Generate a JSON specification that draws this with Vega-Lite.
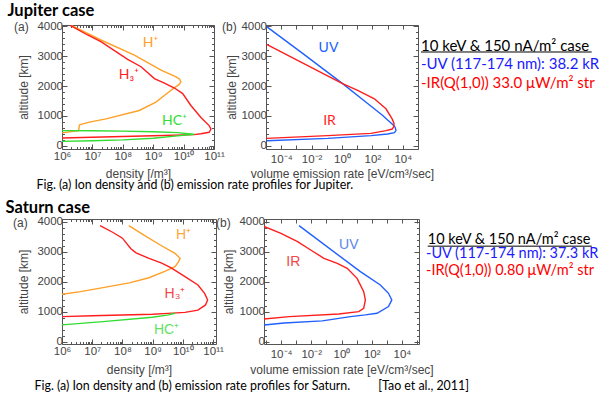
{
  "$schema": "https://vega.github.io/schema/vega-lite/v6.json",
  "background": "white",
  "padding": {"left": 5, "top": 3, "right": 0, "bottom": 0},
  "config": {
    "font": "Liberation Sans",
    "view": {"stroke": "#555", "strokeWidth": 1},
    "axis": {"domain": false, "grid": false, "tickColor": "#555", "labelColor": "#444", "titleColor": "#444", "labelFont": "Liberation Sans", "titleFont": "Liberation Sans", "labelFontSize": 11.5, "titleFontSize": 12, "titleFontWeight": "normal", "labelOverlap": false, "labelFlush": false},
    "title": {"font": "Lato", "color": "#000"}
  },
  "datasets": {
    "jd": [
      {"s": "H⁺", "i": 0, "n": 1.995e6, "alt": 4040}, {"s": "H⁺", "i": 1, "n": 1.905e7, "alt": 3547}, {"s": "H⁺", "i": 2, "n": 2.399e8, "alt": 3040}, {"s": "H⁺", "i": 3, "n": 1.820e9, "alt": 2533}, {"s": "H⁺", "i": 4, "n": 5.623e9, "alt": 2308}, {"s": "H⁺", "i": 5, "n": 7.413e9, "alt": 2230}, {"s": "H⁺", "i": 6, "n": 8.128e9, "alt": 2139}, {"s": "H⁺", "i": 7, "n": 7.079e9, "alt": 2050}, {"s": "H⁺", "i": 8, "n": 5.012e9, "alt": 1950}, {"s": "H⁺", "i": 9, "n": 2.818e9, "alt": 1750}, {"s": "H⁺", "i": 10, "n": 1.230e9, "alt": 1463}, {"s": "H⁺", "i": 11, "n": 3.467e8, "alt": 1182}, {"s": "H⁺", "i": 12, "n": 2.818e7, "alt": 899}, {"s": "H⁺", "i": 13, "n": 7.943e6, "alt": 790}, {"s": "H⁺", "i": 14, "n": 3.981e6, "alt": 710}, {"s": "H⁺", "i": 15, "n": 3.715e6, "alt": 690}, {"s": "H⁺", "i": 16, "n": 3.548e6, "alt": 507}, {"s": "H⁺", "i": 17, "n": 1e6, "alt": 430},
      {"s": "H₃⁺", "i": 0, "n": 1.862e6, "alt": 4040}, {"s": "H₃⁺", "i": 1, "n": 6.918e6, "alt": 3715}, {"s": "H₃⁺", "i": 2, "n": 1.905e7, "alt": 3490}, {"s": "H₃⁺", "i": 3, "n": 1.445e8, "alt": 2900}, {"s": "H₃⁺", "i": 4, "n": 3.981e8, "alt": 2650}, {"s": "H₃⁺", "i": 5, "n": 1.096e9, "alt": 2251}, {"s": "H₃⁺", "i": 6, "n": 2.344e9, "alt": 2100}, {"s": "H₃⁺", "i": 7, "n": 5.012e9, "alt": 1936}, {"s": "H₃⁺", "i": 8, "n": 9.333e9, "alt": 1750}, {"s": "H₃⁺", "i": 9, "n": 1.738e10, "alt": 1350}, {"s": "H₃⁺", "i": 10, "n": 3.715e10, "alt": 950}, {"s": "H₃⁺", "i": 11, "n": 6.918e10, "alt": 675}, {"s": "H₃⁺", "i": 12, "n": 7.943e10, "alt": 560}, {"s": "H₃⁺", "i": 13, "n": 6.918e10, "alt": 450}, {"s": "H₃⁺", "i": 14, "n": 3.715e10, "alt": 400}, {"s": "H₃⁺", "i": 15, "n": 2.239e10, "alt": 372}, {"s": "H₃⁺", "i": 16, "n": 1e9, "alt": 335}, {"s": "H₃⁺", "i": 17, "n": 1e8, "alt": 310}, {"s": "H₃⁺", "i": 18, "n": 1e7, "alt": 285}, {"s": "H₃⁺", "i": 19, "n": 1e6, "alt": 257},
      {"s": "HC⁺", "i": 0, "n": 1e6, "alt": 507}, {"s": "HC⁺", "i": 1, "n": 1e7, "alt": 500}, {"s": "HC⁺", "i": 2, "n": 1e8, "alt": 490}, {"s": "HC⁺", "i": 3, "n": 1e9, "alt": 470}, {"s": "HC⁺", "i": 4, "n": 6.310e9, "alt": 440}, {"s": "HC⁺", "i": 5, "n": 2.239e10, "alt": 385}, {"s": "HC⁺", "i": 6, "n": 6.310e9, "alt": 330}, {"s": "HC⁺", "i": 7, "n": 1e9, "alt": 250}, {"s": "HC⁺", "i": 8, "n": 1e8, "alt": 195}, {"s": "HC⁺", "i": 9, "n": 1e7, "alt": 165}, {"s": "HC⁺", "i": 10, "n": 1e6, "alt": 145}
    ],
    "jdl": [
      {"s": "H⁺", "n": 8.127e8, "alt": 3456}, {"s": "H₃⁺", "n": 1.585e8, "alt": 2375}, {"s": "HC⁺", "n": 5.012e9, "alt": 821}
    ],
    "je": [
      {"s": "UV", "i": 0, "n": 1.096e-5, "alt": 3997}, {"s": "UV", "i": 1, "n": 1.995e-3, "alt": 3142}, {"s": "UV", "i": 2, "n": 1.096, "alt": 2082}, {"s": "UV", "i": 3, "n": 31.62, "alt": 1491}, {"s": "UV", "i": 4, "n": 478.6, "alt": 1013}, {"s": "UV", "i": 5, "n": 1000, "alt": 860}, {"s": "UV", "i": 6, "n": 1995, "alt": 730}, {"s": "UV", "i": 7, "n": 3162, "alt": 620}, {"s": "UV", "i": 8, "n": 3548, "alt": 507}, {"s": "UV", "i": 9, "n": 2818, "alt": 440}, {"s": "UV", "i": 10, "n": 1000, "alt": 392}, {"s": "UV", "i": 11, "n": 81.28, "alt": 338}, {"s": "UV", "i": 12, "n": 0.1148, "alt": 247}, {"s": "UV", "i": 13, "n": 1.096e-5, "alt": 169},
      {"s": "IR", "i": 0, "n": 1.096e-5, "alt": 3400}, {"s": "IR", "i": 1, "n": 1.995e-3, "alt": 2804}, {"s": "IR", "i": 2, "n": 1.096, "alt": 2082}, {"s": "IR", "i": 3, "n": 10.72, "alt": 1857}, {"s": "IR", "i": 4, "n": 134.9, "alt": 1575}, {"s": "IR", "i": 5, "n": 776.2, "alt": 1238}, {"s": "IR", "i": 6, "n": 1995, "alt": 900}, {"s": "IR", "i": 7, "n": 2630, "alt": 750}, {"s": "IR", "i": 8, "n": 2630, "alt": 650}, {"s": "IR", "i": 9, "n": 1995, "alt": 560}, {"s": "IR", "i": 10, "n": 794.3, "alt": 507}, {"s": "IR", "i": 11, "n": 79.43, "alt": 415}, {"s": "IR", "i": 12, "n": 0.1148, "alt": 338}, {"s": "IR", "i": 13, "n": 1.096e-5, "alt": 247}
    ],
    "jel": [
      {"s": "UV", "n": 0.1288, "alt": 3287}, {"s": "IR", "n": 0.1514, "alt": 821}
    ],
    "sd": [
      {"s": "H⁺", "i": 0, "n": 1.622e8, "alt": 3867}, {"s": "H⁺", "i": 1, "n": 5.012e8, "alt": 3560}, {"s": "H⁺", "i": 2, "n": 1.778e9, "alt": 3222}, {"s": "H⁺", "i": 3, "n": 5.495e9, "alt": 2944}, {"s": "H⁺", "i": 4, "n": 8.128e9, "alt": 2778}, {"s": "H⁺", "i": 5, "n": 7.079e9, "alt": 2650}, {"s": "H⁺", "i": 6, "n": 5.495e9, "alt": 2500}, {"s": "H⁺", "i": 7, "n": 2.630e9, "alt": 2350}, {"s": "H⁺", "i": 8, "n": 7.586e8, "alt": 2130}, {"s": "H⁺", "i": 9, "n": 1.698e8, "alt": 1960}, {"s": "H⁺", "i": 10, "n": 2.291e7, "alt": 1800}, {"s": "H⁺", "i": 11, "n": 4.074e6, "alt": 1667}, {"s": "H⁺", "i": 12, "n": 1e6, "alt": 1578},
      {"s": "H₃⁺", "i": 0, "n": 1.820e7, "alt": 3867}, {"s": "H₃⁺", "i": 1, "n": 4.898e7, "alt": 3640}, {"s": "H₃⁺", "i": 2, "n": 1e8, "alt": 3450}, {"s": "H₃⁺", "i": 3, "n": 1.905e8, "alt": 3100}, {"s": "H₃⁺", "i": 4, "n": 2.818e8, "alt": 2960}, {"s": "H₃⁺", "i": 5, "n": 7.586e8, "alt": 2778}, {"s": "H₃⁺", "i": 6, "n": 1.995e9, "alt": 2620}, {"s": "H₃⁺", "i": 7, "n": 3.981e9, "alt": 2470}, {"s": "H₃⁺", "i": 8, "n": 1.175e10, "alt": 2170}, {"s": "H₃⁺", "i": 9, "n": 3.162e10, "alt": 1890}, {"s": "H₃⁺", "i": 10, "n": 5.248e10, "alt": 1610}, {"s": "H₃⁺", "i": 11, "n": 6.607e10, "alt": 1390}, {"s": "H₃⁺", "i": 12, "n": 5.623e10, "alt": 1223}, {"s": "H₃⁺", "i": 13, "n": 3.162e10, "alt": 1050}, {"s": "H₃⁺", "i": 14, "n": 1.175e10, "alt": 975}, {"s": "H₃⁺", "i": 15, "n": 3.162e9, "alt": 940}, {"s": "H₃⁺", "i": 16, "n": 1e9, "alt": 913}, {"s": "H₃⁺", "i": 17, "n": 1e8, "alt": 885}, {"s": "H₃⁺", "i": 18, "n": 1e7, "alt": 860}, {"s": "H₃⁺", "i": 19, "n": 1e6, "alt": 833},
      {"s": "HC⁺", "i": 0, "n": 1e6, "alt": 557}, {"s": "HC⁺", "i": 1, "n": 2.291e7, "alt": 667}, {"s": "HC⁺", "i": 2, "n": 9.772e8, "alt": 813}, {"s": "HC⁺", "i": 3, "n": 3.388e9, "alt": 890}, {"s": "HC⁺", "i": 4, "n": 5.495e9, "alt": 947}
    ],
    "sdl": [
      {"s": "H⁺", "n": 1.047e10, "alt": 3557}, {"s": "H₃⁺", "n": 5.495e9, "alt": 1573}, {"s": "HC⁺", "n": 2.884e9, "alt": 390}
    ],
    "se": [
      {"s": "UV", "i": 0, "n": 1.549e-3, "alt": 3867}, {"s": "UV", "i": 1, "n": 17.78, "alt": 2333}, {"s": "UV", "i": 2, "n": 371.5, "alt": 1890}, {"s": "UV", "i": 3, "n": 1288, "alt": 1611}, {"s": "UV", "i": 4, "n": 2138, "alt": 1390}, {"s": "UV", "i": 5, "n": 1288, "alt": 1167}, {"s": "UV", "i": 6, "n": 223.9, "alt": 944}, {"s": "UV", "i": 7, "n": 38.02, "alt": 890}, {"s": "UV", "i": 8, "n": 3.890, "alt": 833}, {"s": "UV", "i": 9, "n": 0.0537, "alt": 690}, {"s": "UV", "i": 10, "n": 1.585e-4, "alt": 620}, {"s": "UV", "i": 11, "n": 7.5e-6, "alt": 555},
      {"s": "IR", "i": 0, "n": 7.5e-6, "alt": 3840}, {"s": "IR", "i": 1, "n": 9.772e-5, "alt": 3611}, {"s": "IR", "i": 2, "n": 1.230e-3, "alt": 3333}, {"s": "IR", "i": 3, "n": 9.120e-3, "alt": 3055}, {"s": "IR", "i": 4, "n": 6.918e-2, "alt": 2778}, {"s": "IR", "i": 5, "n": 0.5248, "alt": 2611}, {"s": "IR", "i": 6, "n": 2.399, "alt": 2444}, {"s": "IR", "i": 7, "n": 10.72, "alt": 2111}, {"s": "IR", "i": 8, "n": 29.51, "alt": 1667}, {"s": "IR", "i": 9, "n": 38.02, "alt": 1390}, {"s": "IR", "i": 10, "n": 29.51, "alt": 1111}, {"s": "IR", "i": 11, "n": 13.80, "alt": 1000}, {"s": "IR", "i": 12, "n": 0.6607, "alt": 923}, {"s": "IR", "i": 13, "n": 3.388e-4, "alt": 833}, {"s": "IR", "i": 14, "n": 7.5e-6, "alt": 755}
    ],
    "sel": [
      {"s": "UV", "n": 3.020, "alt": 3223}, {"s": "IR", "n": 6.457e-4, "alt": 2657}
    ],
    "jn": [
      {"line": 0, "kind": "head", "text": "10 keV & 150 nA/m² case"},
      {"line": 1, "kind": "uv", "text": "-UV (117-174 nm): 38.2 kR"},
      {"line": 2, "kind": "ir", "text": "-IR(Q(1,0)) 33.0 μW/m² str"}
    ],
    "sn": [
      {"line": 0, "kind": "head", "text": "10 keV & 150 nA/m² case"},
      {"line": 0.73, "kind": "uv", "text": "-UV (117-174 nm): 37.3 kR"},
      {"line": 1.65, "kind": "ir", "text": "-IR(Q(1,0)) 0.80 μW/m² str"}
    ]
  },
  "vconcat": [
    {
      "title": {"text": "Jupiter case", "anchor": "start", "fontSize": 16.5, "fontWeight": "bold", "offset": 0, "dx": -6},
      "vconcat": [
        {
          "title": {"text": "Fig. (a) Ion density and (b) emission rate profiles for Jupiter.", "orient": "bottom", "anchor": "start", "fontSize": 12.4, "fontWeight": "normal", "offset": -1, "dx": 23},
          "bounds": "flush",
          "spacing": 52,
          "hconcat": [
            {
              "width": 152, "height": 124,
              "title": {"text": "(a)", "anchor": "start", "frame": "group", "dx": -48, "offset": -14, "fontSize": 12, "fontWeight": "normal", "font": "Liberation Sans", "color": "#444"},
              "layer": [
                {"data": {"name": "jd"}, "mark": {"type": "line", "strokeWidth": 1.4, "clip": true},
                 "encoding": {
                   "x": {"field": "n", "type": "quantitative", "scale": {"type": "log", "domain": [1e6, 1e11]},
                         "axis": {"orient": "bottom", "title": "density [/m³]", "values": [1e6,2e6,3e6,4e6,5e6,6e6,7e6,8e6,9e6,1e7,2e7,3e7,4e7,5e7,6e7,7e7,8e7,9e7,1e8,2e8,3e8,4e8,5e8,6e8,7e8,8e8,9e8,1e9,2e9,3e9,4e9,5e9,6e9,7e9,8e9,9e9,1e10,2e10,3e10,4e10,5e10,6e10,7e10,8e10,9e10,1e11],
                                  "labelExpr": "abs(log(datum.value)/LN10 - round(log(datum.value)/LN10)) < 1e-6 ? '10' + ['⁰','¹','²','³','⁴','⁵','⁶','⁷','⁸','⁹','¹⁰','¹¹'][round(log(datum.value)/LN10)] : ''",
                                  "tickSize": {"condition": {"test": "abs(log(datum.value)/LN10 - round(log(datum.value)/LN10)) < 1e-6", "value": -5}, "value": -2.5},
                                  "labelPadding": 6.5, "titlePadding": 3.5}},
                   "y": {"field": "alt", "type": "quantitative", "scale": {"domain": [-110, 4050], "nice": false, "zero": false},
                         "axis": {"orient": "left", "title": "altitude [km]", "values": [0,200,400,600,800,1000,1200,1400,1600,1800,2000,2200,2400,2600,2800,3000,3200,3400,3600,3800,4000],
                                  "labelExpr": "datum.value % 1000 === 0 ? format(datum.value, 'd') : ''",
                                  "tickSize": {"condition": {"test": "datum.value % 1000 === 0", "value": -5}, "value": -2.5},
                                  "labelPadding": 4.5, "titlePadding": 6.4}},
                   "color": {"field": "s", "type": "nominal", "scale": {"domain": ["H⁺", "H₃⁺", "HC⁺", "UV", "IR"], "range": ["#FFA028", "#FF1E1E", "#30DD30", "#2060FF", "#FF1E1E"]}, "legend": null},
                   "order": {"field": "i", "type": "quantitative"}
                 }},
                {"data": {"name": "jdl"}, "mark": {"type": "text", "font": "Lato", "fontSize": 14},
                 "encoding": {
                   "x": {"field": "n", "type": "quantitative", "scale": {"type": "log", "domain": [1e6, 1e11]},
                         "axis": {"orient": "top", "title": null, "labels": false, "values": [1e6,2e6,3e6,4e6,5e6,6e6,7e6,8e6,9e6,1e7,2e7,3e7,4e7,5e7,6e7,7e7,8e7,9e7,1e8,2e8,3e8,4e8,5e8,6e8,7e8,8e8,9e8,1e9,2e9,3e9,4e9,5e9,6e9,7e9,8e9,9e9,1e10,2e10,3e10,4e10,5e10,6e10,7e10,8e10,9e10,1e11],
                                  "tickSize": {"condition": {"test": "abs(log(datum.value)/LN10 - round(log(datum.value)/LN10)) < 1e-6", "value": -5}, "value": -2.5}}},
                   "y": {"field": "alt", "type": "quantitative", "scale": {"domain": [-110, 4050], "nice": false, "zero": false},
                         "axis": {"orient": "right", "title": null, "labels": false, "values": [0,200,400,600,800,1000,1200,1400,1600,1800,2000,2200,2400,2600,2800,3000,3200,3400,3600,3800,4000],
                                  "tickSize": {"condition": {"test": "datum.value % 1000 === 0", "value": -5}, "value": -2.5}}},
                   "text": {"field": "s"},
                   "color": {"field": "s", "type": "nominal", "scale": {"domain": ["H⁺", "H₃⁺", "HC⁺", "UV", "IR"], "range": ["#FFA028", "#FF1E1E", "#30DD30", "#2060FF", "#FF1E1E"]}, "legend": null}
                 }}
              ],
              "resolve": {"axis": {"x": "independent", "y": "independent"}}
            },
            {
              "width": 152, "height": 124,
              "title": {"text": "(b)", "anchor": "start", "frame": "group", "dx": -44, "offset": -14, "fontSize": 12, "fontWeight": "normal", "font": "Liberation Sans", "color": "#444"},
              "layer": [
                {"data": {"name": "je"}, "mark": {"type": "line", "strokeWidth": 1.4, "clip": true},
                 "encoding": {
                   "x": {"field": "n", "type": "quantitative", "scale": {"type": "log", "domain": [1e-5, 1e5]},
                         "axis": {"orient": "bottom", "title": "volume emission rate [eV/cm³/sec]", "values": [1e-5,1e-4,1e-3,1e-2,1e-1,1,10,100,1000,1e4,1e5],
                                  "labelExpr": "(abs(log(datum.value)/LN10 - round(log(datum.value)/LN10)) < 1e-6 && round(log(datum.value)/LN10) % 2 === 0 && abs(round(log(datum.value)/LN10)) <= 4) ? '10' + (round(log(datum.value)/LN10) < 0 ? '⁻' : '') + ['⁰','¹','²','³','⁴'][abs(round(log(datum.value)/LN10))] : ''",
                                  "tickSize": -4, "labelPadding": 8, "titlePadding": 3.5}},
                   "y": {"field": "alt", "type": "quantitative", "scale": {"domain": [-110, 4050], "nice": false, "zero": false},
                         "axis": {"orient": "left", "title": "altitude [km]", "values": [0,200,400,600,800,1000,1200,1400,1600,1800,2000,2200,2400,2600,2800,3000,3200,3400,3600,3800,4000],
                                  "labelExpr": "datum.value % 1000 === 0 ? format(datum.value, 'd') : ''",
                                  "tickSize": {"condition": {"test": "datum.value % 1000 === 0", "value": -5}, "value": -2.5},
                                  "labelPadding": 4.5, "titlePadding": 2.4}},
                   "color": {"field": "s", "type": "nominal", "scale": {"domain": ["H⁺", "H₃⁺", "HC⁺", "UV", "IR"], "range": ["#FFA028", "#FF1E1E", "#30DD30", "#2060FF", "#FF1E1E"]}, "legend": null},
                   "order": {"field": "i", "type": "quantitative"}
                 }},
                {"data": {"name": "jel"}, "mark": {"type": "text", "font": "Lato", "fontSize": 14},
                 "encoding": {
                   "x": {"field": "n", "type": "quantitative", "scale": {"type": "log", "domain": [1e-5, 1e5]},
                         "axis": {"orient": "top", "title": null, "labels": false, "values": [1e-5,1e-4,1e-3,1e-2,1e-1,1,10,100,1000,1e4,1e5], "tickSize": -4}},
                   "y": {"field": "alt", "type": "quantitative", "scale": {"domain": [-110, 4050], "nice": false, "zero": false},
                         "axis": {"orient": "right", "title": null, "labels": false, "values": [0,200,400,600,800,1000,1200,1400,1600,1800,2000,2200,2400,2600,2800,3000,3200,3400,3600,3800,4000],
                                  "tickSize": {"condition": {"test": "datum.value % 1000 === 0", "value": -5}, "value": -2.5}}},
                   "text": {"field": "s"},
                   "color": {"field": "s", "type": "nominal", "scale": {"domain": ["H⁺", "H₃⁺", "HC⁺", "UV", "IR"], "range": ["#FFA028", "#FF1E1E", "#30DD30", "#2878D8", "#FF1E1E"]}, "legend": null}
                 }}
              ],
              "resolve": {"axis": {"x": "independent", "y": "independent"}}
            },
            {
              "width": 130, "height": 124,
              "view": {"stroke": null},
              "data": {"name": "jn"},
              "layer": [
                {"transform": [{"filter": "datum.kind === 'head'"}], "mark": {"type": "text", "align": "left", "baseline": "middle", "font": "Lato", "fontSize": 15, "color": "#000"},
                 "encoding": {"x": {"datum": -0.377, "type": "quantitative", "scale": {"domain": [0, 1]}, "axis": null}, "y": {"field": "line", "type": "quantitative", "scale": {"domain": [-1.135, 5.57], "reverse": true}, "axis": null}, "text": {"field": "text"}}},
                {"transform": [{"filter": "datum.kind === 'head'"}], "mark": {"type": "rule", "color": "#000", "strokeWidth": 1, "yOffset": 6},
                 "encoding": {"x": {"datum": -0.377, "type": "quantitative", "scale": {"domain": [0, 1]}, "axis": null}, "x2": {"datum": 0.936}, "y": {"field": "line", "type": "quantitative", "scale": {"domain": [-1.135, 5.57], "reverse": true}, "axis": null}}},
                {"transform": [{"filter": "datum.kind === 'uv'"}], "mark": {"type": "text", "align": "left", "baseline": "middle", "font": "Lato", "fontSize": 15, "color": "#1A1AFF"},
                 "encoding": {"x": {"datum": -0.377, "type": "quantitative", "scale": {"domain": [0, 1]}, "axis": null}, "y": {"field": "line", "type": "quantitative", "scale": {"domain": [-1.135, 5.57], "reverse": true}, "axis": null}, "text": {"field": "text"}}},
                {"transform": [{"filter": "datum.kind === 'ir'"}], "mark": {"type": "text", "align": "left", "baseline": "middle", "font": "Lato", "fontSize": 15, "color": "#FF0000"},
                 "encoding": {"x": {"datum": -0.377, "type": "quantitative", "scale": {"domain": [0, 1]}, "axis": null}, "y": {"field": "line", "type": "quantitative", "scale": {"domain": [-1.135, 5.57], "reverse": true}, "axis": null}, "text": {"field": "text"}}}
              ]
            }
          ]
        }
      ]
    },
    {
      "title": {"text": "Saturn case", "anchor": "start", "fontSize": 16.5, "fontWeight": "bold", "offset": -1, "dx": -7},
      "vconcat": [
        {
          "title": {"text": "Fig. (a) Ion density and (b) emission rate profiles for Saturn.\u2003\u2003\u00a0\u00a0\u00a0[Tao et al., 2011]", "orient": "bottom", "anchor": "start", "fontSize": 12.4, "fontWeight": "normal", "offset": 4, "dx": 22},
          "bounds": "flush",
          "spacing": 48,
          "hconcat": [
            {
              "width": 154, "height": 125,
              "title": {"text": "(a)", "anchor": "start", "frame": "group", "dx": -49, "offset": -14, "fontSize": 12, "fontWeight": "normal", "font": "Liberation Sans", "color": "#444"},
              "layer": [
                {"data": {"name": "sd"}, "mark": {"type": "line", "strokeWidth": 1.4, "clip": true},
                 "encoding": {
                   "x": {"field": "n", "type": "quantitative", "scale": {"type": "log", "domain": [1e6, 1.25e11]},
                         "axis": {"orient": "bottom", "title": "density [/m³]", "values": [1e6,2e6,3e6,4e6,5e6,6e6,7e6,8e6,9e6,1e7,2e7,3e7,4e7,5e7,6e7,7e7,8e7,9e7,1e8,2e8,3e8,4e8,5e8,6e8,7e8,8e8,9e8,1e9,2e9,3e9,4e9,5e9,6e9,7e9,8e9,9e9,1e10,2e10,3e10,4e10,5e10,6e10,7e10,8e10,9e10,1e11],
                                  "labelExpr": "abs(log(datum.value)/LN10 - round(log(datum.value)/LN10)) < 1e-6 ? '10' + ['⁰','¹','²','³','⁴','⁵','⁶','⁷','⁸','⁹','¹⁰','¹¹'][round(log(datum.value)/LN10)] : ''",
                                  "tickSize": {"condition": {"test": "abs(log(datum.value)/LN10 - round(log(datum.value)/LN10)) < 1e-6", "value": -5}, "value": -2.5},
                                  "labelPadding": 6.5, "titlePadding": 5}},
                   "y": {"field": "alt", "type": "quantitative", "scale": {"domain": [-80, 4090], "nice": false, "zero": false},
                         "axis": {"orient": "left", "title": "altitude [km]", "values": [0,200,400,600,800,1000,1200,1400,1600,1800,2000,2200,2400,2600,2800,3000,3200,3400,3600,3800,4000],
                                  "labelExpr": "datum.value % 1000 === 0 ? format(datum.value, 'd') : ''",
                                  "tickSize": {"condition": {"test": "datum.value % 1000 === 0", "value": -5}, "value": -2.5},
                                  "labelPadding": 4.5, "titlePadding": 6}},
                   "color": {"field": "s", "type": "nominal", "scale": {"domain": ["H⁺", "H₃⁺", "HC⁺", "UV", "IR"], "range": ["#FFA028", "#FF1E1E", "#30DD30", "#2060FF", "#FF1E1E"]}, "legend": null},
                   "order": {"field": "i", "type": "quantitative"}
                 }},
                {"data": {"name": "sdl"}, "mark": {"type": "text", "font": "Liberation Sans", "fontSize": 14},
                 "encoding": {
                   "x": {"field": "n", "type": "quantitative", "scale": {"type": "log", "domain": [1e6, 1.25e11]},
                         "axis": {"orient": "top", "title": null, "labels": false, "values": [1e6,2e6,3e6,4e6,5e6,6e6,7e6,8e6,9e6,1e7,2e7,3e7,4e7,5e7,6e7,7e7,8e7,9e7,1e8,2e8,3e8,4e8,5e8,6e8,7e8,8e8,9e8,1e9,2e9,3e9,4e9,5e9,6e9,7e9,8e9,9e9,1e10,2e10,3e10,4e10,5e10,6e10,7e10,8e10,9e10,1e11],
                                  "tickSize": {"condition": {"test": "abs(log(datum.value)/LN10 - round(log(datum.value)/LN10)) < 1e-6", "value": -5}, "value": -2.5}}},
                   "y": {"field": "alt", "type": "quantitative", "scale": {"domain": [-80, 4090], "nice": false, "zero": false},
                         "axis": {"orient": "right", "title": null, "labels": false, "values": [0,200,400,600,800,1000,1200,1400,1600,1800,2000,2200,2400,2600,2800,3000,3200,3400,3600,3800,4000],
                                  "tickSize": {"condition": {"test": "datum.value % 1000 === 0", "value": -5}, "value": -2.5}}},
                   "text": {"field": "s"},
                   "color": {"field": "s", "type": "nominal", "scale": {"domain": ["H⁺", "H₃⁺", "HC⁺", "UV", "IR"], "range": ["#FFA540", "#F04848", "#66E066", "#5A86E8", "#F04848"]}, "legend": null}
                 }}
              ],
              "resolve": {"axis": {"x": "independent", "y": "independent"}, "scale": {"color": "independent"}}
            },
            {
              "width": 155, "height": 125,
              "title": {"text": "(b)", "anchor": "start", "frame": "group", "dx": -48, "offset": -14, "fontSize": 12, "fontWeight": "normal", "font": "Liberation Sans", "color": "#444"},
              "layer": [
                {"data": {"name": "se"}, "mark": {"type": "line", "strokeWidth": 1.4, "clip": true},
                 "encoding": {
                   "x": {"field": "n", "type": "quantitative", "scale": {"type": "log", "domain": [7.41e-6, 1.349e5]},
                         "axis": {"orient": "bottom", "title": "volume emission rate [eV/cm³/sec]", "values": [1e-5,1e-4,1e-3,1e-2,1e-1,1,10,100,1000,1e4,1e5],
                                  "labelExpr": "(abs(log(datum.value)/LN10 - round(log(datum.value)/LN10)) < 1e-6 && round(log(datum.value)/LN10) % 2 === 0 && abs(round(log(datum.value)/LN10)) <= 4) ? '10' + (round(log(datum.value)/LN10) < 0 ? '⁻' : '') + ['⁰','¹','²','³','⁴'][abs(round(log(datum.value)/LN10))] : ''",
                                  "tickSize": -4, "labelPadding": 8, "titlePadding": 5}},
                   "y": {"field": "alt", "type": "quantitative", "scale": {"domain": [-80, 4090], "nice": false, "zero": false},
                         "axis": {"orient": "left", "title": "altitude [km]", "values": [0,200,400,600,800,1000,1200,1400,1600,1800,2000,2200,2400,2600,2800,3000,3200,3400,3600,3800,4000],
                                  "labelExpr": "datum.value % 1000 === 0 ? format(datum.value, 'd') : ''",
                                  "tickSize": {"condition": {"test": "datum.value % 1000 === 0", "value": -5}, "value": -2.5},
                                  "labelPadding": 4.5, "titlePadding": 3.4}},
                   "color": {"field": "s", "type": "nominal", "scale": {"domain": ["H⁺", "H₃⁺", "HC⁺", "UV", "IR"], "range": ["#FFA028", "#FF1E1E", "#30DD30", "#2060FF", "#FF1E1E"]}, "legend": null},
                   "order": {"field": "i", "type": "quantitative"}
                 }},
                {"data": {"name": "sel"}, "mark": {"type": "text", "font": "Liberation Sans", "fontSize": 14},
                 "encoding": {
                   "x": {"field": "n", "type": "quantitative", "scale": {"type": "log", "domain": [7.41e-6, 1.349e5]},
                         "axis": {"orient": "top", "title": null, "labels": false, "values": [1e-5,1e-4,1e-3,1e-2,1e-1,1,10,100,1000,1e4,1e5], "tickSize": -4}},
                   "y": {"field": "alt", "type": "quantitative", "scale": {"domain": [-80, 4090], "nice": false, "zero": false},
                         "axis": {"orient": "right", "title": null, "labels": false, "values": [0,200,400,600,800,1000,1200,1400,1600,1800,2000,2200,2400,2600,2800,3000,3200,3400,3600,3800,4000],
                                  "tickSize": {"condition": {"test": "datum.value % 1000 === 0", "value": -5}, "value": -2.5}}},
                   "text": {"field": "s"},
                   "color": {"field": "s", "type": "nominal", "scale": {"domain": ["H⁺", "H₃⁺", "HC⁺", "UV", "IR"], "range": ["#FFA540", "#F04848", "#66E066", "#5A86E8", "#F04848"]}, "legend": null}
                 }}
              ],
              "resolve": {"axis": {"x": "independent", "y": "independent"}, "scale": {"color": "independent"}}
            },
            {
              "width": 130, "height": 125,
              "view": {"stroke": null},
              "data": {"name": "sn"},
              "layer": [
                {"transform": [{"filter": "datum.kind === 'head'"}], "mark": {"type": "text", "align": "left", "baseline": "middle", "font": "Lato", "fontSize": 14.5, "color": "#000"},
                 "encoding": {"x": {"datum": -0.302, "type": "quantitative", "scale": {"domain": [0, 1]}, "axis": null}, "y": {"field": "line", "type": "quantitative", "scale": {"domain": [-1.135, 5.57], "reverse": true}, "axis": null}, "text": {"field": "text"}}},
                {"transform": [{"filter": "datum.kind === 'head'"}], "mark": {"type": "rule", "color": "#000", "strokeWidth": 1, "yOffset": 6},
                 "encoding": {"x": {"datum": -0.302, "type": "quantitative", "scale": {"domain": [0, 1]}, "axis": null}, "x2": {"datum": 0.96}, "y": {"field": "line", "type": "quantitative", "scale": {"domain": [-1.135, 5.57], "reverse": true}, "axis": null}}},
                {"transform": [{"filter": "datum.kind === 'uv'"}], "mark": {"type": "text", "align": "left", "baseline": "middle", "font": "Lato", "fontSize": 14.5, "color": "#1A1AFF"},
                 "encoding": {"x": {"datum": -0.315, "type": "quantitative", "scale": {"domain": [0, 1]}, "axis": null}, "y": {"field": "line", "type": "quantitative", "scale": {"domain": [-1.135, 5.57], "reverse": true}, "axis": null}, "text": {"field": "text"}}},
                {"transform": [{"filter": "datum.kind === 'ir'"}], "mark": {"type": "text", "align": "left", "baseline": "middle", "font": "Lato", "fontSize": 14.5, "color": "#FF0000"},
                 "encoding": {"x": {"datum": -0.315, "type": "quantitative", "scale": {"domain": [0, 1]}, "axis": null}, "y": {"field": "line", "type": "quantitative", "scale": {"domain": [-1.135, 5.57], "reverse": true}, "axis": null}, "text": {"field": "text"}}}
              ]
            }
          ]
        }
      ]
    }
  ],
  "spacing": 8
}
